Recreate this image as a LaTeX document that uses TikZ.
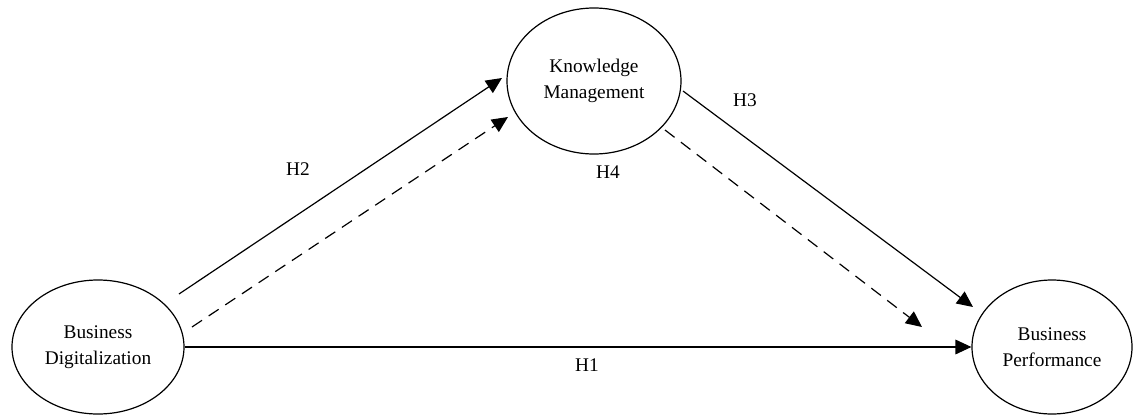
\documentclass[tikz,border=0pt]{standalone}
\usepackage{fontspec}
\setmainfont{Liberation Serif}
\usetikzlibrary{arrows.meta,shapes.geometric}

\begin{document}
\begin{tikzpicture}[
   x=0.75pt, y=-0.75pt,
   >={Triangle[length=12pt,width=11pt]},
   construct/.style={draw,ellipse,line width=0.9pt,inner sep=0pt,align=center,
                     font=\fontsize{14.5}{19.5}\selectfont},
   hyplabel/.style={font=\fontsize{14.5}{17}\selectfont},
   pathflow/.style={->,line width=0.9pt},
   medflow/.style={->,line width=0.9pt,dash pattern=on 9pt off 6pt},
   ]
\useasboundingbox (0,0) rectangle (1133,415);
%% Constructs
\node[construct,minimum width=172*0.75pt,minimum height=134*0.75pt] (bd) at (98,347) {Business\\Digitalization};
\node[construct,minimum width=174*0.75pt,minimum height=146*0.75pt] (km) at (594,81) {Knowledge\\Management};
\node[construct,minimum width=160*0.75pt,minimum height=134*0.75pt] (bp) at (1052,347) {Business\\Performance};
%% Hypothesis labels
\node[hyplabel] (h1) at (587,365) {H1};
\node[hyplabel] (h2) at (298,169) {H2};
\node[hyplabel] (h3) at (745,100) {H3};
\node[hyplabel] (h4) at (608,172) {H4};
%% direct paths
\draw[pathflow] (bd.east) -- (bp.west);
\draw[pathflow] ([shift={(81,-53)}]bd.center) -- ([shift={(-92,-3)}]km.center);
\draw[pathflow] ([shift={(89,10)}]km.center) -- ([shift={(-79,-40)}]bp.center);
%% mediated path
\draw[medflow] ([shift={(94,-20)}]bd.center) -- ([shift={(-86,36)}]km.center);
\draw[medflow] ([shift={(71,49)}]km.center) -- ([shift={(-130,-20)}]bp.center);
\end{tikzpicture}
\end{document}
